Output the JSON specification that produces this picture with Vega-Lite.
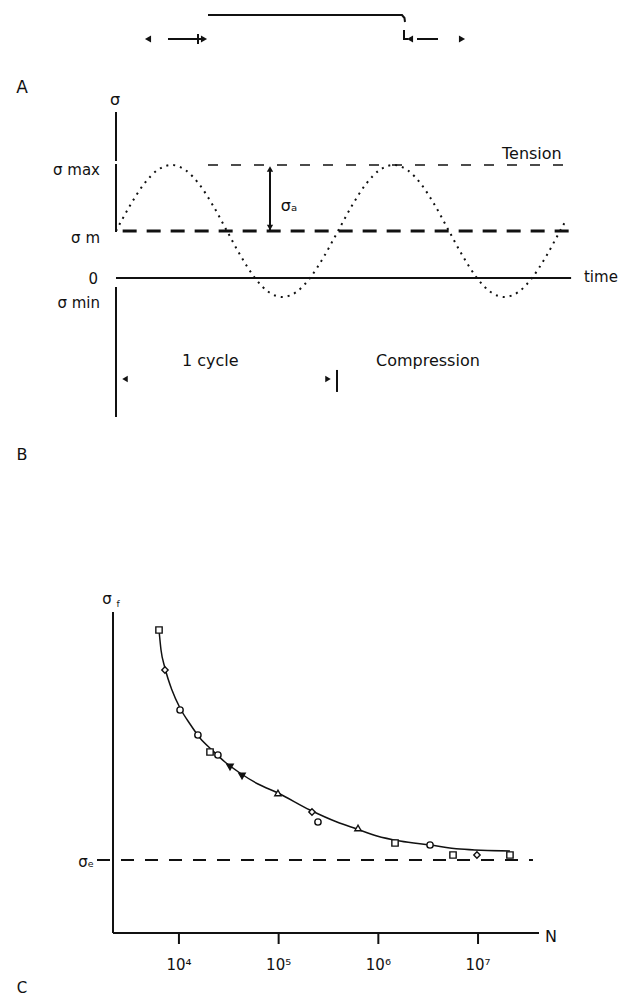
{
  "$schema": "https://vega.github.io/schema/vega-lite/v6.json",
  "padding": 0,
  "spacing": 0,
  "bounds": "flush",
  "background": "white",
  "config": {"view": {"stroke": null}, "font": "DejaVu Sans", "text": {"color": "#111"}},
  "vconcat": [
    {
      "width": 621,
      "height": 100,
      "layer": [
        {
          "data": {"values": [
            {"seg": "top", "o": 1, "t": 0.4144, "v": 8.5},
            {"seg": "top", "o": 2, "t": 1.2883, "v": 8.5},
            {"seg": "top", "o": 3, "t": 1.2995, "v": 8.2},
            {"seg": "top", "o": 4, "t": 1.3018, "v": 7.8},
            {"seg": "drop", "o": 1, "t": 1.2973, "v": 7.0},
            {"seg": "drop", "o": 2, "t": 1.2973, "v": 6.1},
            {"seg": "drop", "o": 3, "t": 1.3153, "v": 6.1},
            {"seg": "left", "o": 1, "t": 0.2342, "v": 6.1},
            {"seg": "left", "o": 2, "t": 0.3874, "v": 6.1},
            {"seg": "right", "o": 1, "t": 1.3559, "v": 6.1},
            {"seg": "right", "o": 2, "t": 1.4505, "v": 6.1},
            {"seg": "bar", "o": 1, "t": 0.3694, "v": 6.6},
            {"seg": "bar", "o": 2, "t": 0.3694, "v": 5.6}
          ]},
          "mark": {"type": "line", "color": "#111", "strokeWidth": 2},
          "encoding": {
            "x": {"field": "t", "type": "quantitative", "scale": {"domain": [-0.52252, 2.27477], "nice": false, "zero": false}, "axis": null},
            "y": {"field": "v", "type": "quantitative", "scale": {"domain": [0, 10], "nice": false, "zero": false}, "axis": null},
            "detail": {"field": "seg"},
            "order": {"field": "o"}
          }
        },
        {
          "data": {"values": [
            {"t": 0.1441, "v": 6.1, "head": "triangle-left"},
            {"t": 0.3964, "v": 6.1, "head": "triangle-right"},
            {"t": 1.3243, "v": 6.1, "head": "triangle-left"},
            {"t": 1.5586, "v": 6.1, "head": "triangle-right"}
          ]},
          "mark": {"type": "point", "filled": true, "color": "#111", "size": 50, "opacity": 1},
          "encoding": {
            "x": {"field": "t", "type": "quantitative"},
            "y": {"field": "v", "type": "quantitative"},
            "shape": {"field": "head", "type": "nominal", "scale": null}
          }
        },
        {
          "data": {"values": [{"label": "A", "t": -0.4234, "v": 1.2}]},
          "mark": {"type": "text", "fontSize": 17, "align": "center", "baseline": "middle"},
          "encoding": {
            "x": {"field": "t", "type": "quantitative"},
            "y": {"field": "v", "type": "quantitative"},
            "text": {"field": "label"}
          }
        }
      ]
    },
    {
      "width": 621,
      "height": 380,
      "layer": [
        {
          "data": {"values": [
            {"t": 0, "s1": 7.545, "s2": 5.318},
            {"t": 0, "s1": 5.182, "s2": 2.091},
            {"t": 0, "s1": -0.409, "s2": -6.318}
          ]},
          "mark": {"type": "rule", "color": "#111", "strokeWidth": 2},
          "encoding": {
            "x": {"field": "t", "type": "quantitative", "scale": {"domain": [-0.52252, 2.27477], "nice": false, "zero": false}, "axis": null},
            "y": {"field": "s1", "type": "quantitative", "scale": {"domain": [-9.1818, 8.0909], "nice": false, "zero": false}, "axis": null},
            "y2": {"field": "s2"}
          }
        },
        {
          "data": {"values": [{"t1": 0, "t2": 2.05, "s": 0}]},
          "mark": {"type": "rule", "color": "#111", "strokeWidth": 2},
          "encoding": {
            "x": {"field": "t1", "type": "quantitative"},
            "x2": {"field": "t2"},
            "y": {"field": "s", "type": "quantitative"}
          }
        },
        {
          "data": {"values": [{"t1": 0.03, "t2": 2.05, "s": 2.136}]},
          "mark": {"type": "rule", "color": "#111", "strokeWidth": 3, "strokeDash": [14, 10]},
          "encoding": {
            "x": {"field": "t1", "type": "quantitative"},
            "x2": {"field": "t2"},
            "y": {"field": "s", "type": "quantitative"}
          }
        },
        {
          "data": {"values": [{"t1": 0.4144, "t2": 2.05, "s": 5.136}]},
          "mark": {"type": "rule", "color": "#111", "strokeWidth": 1.7, "strokeDash": [10, 13]},
          "encoding": {
            "x": {"field": "t1", "type": "quantitative"},
            "x2": {"field": "t2"},
            "y": {"field": "s", "type": "quantitative"}
          }
        },
        {
          "data": {"values": [
            {"t": 0.6937, "s1": 2.136, "s2": 4.95},
            {"t": 0.9955, "s1": -4.18, "s2": -5.18}
          ]},
          "mark": {"type": "rule", "color": "#111", "strokeWidth": 2},
          "encoding": {
            "x": {"field": "t", "type": "quantitative"},
            "y": {"field": "s1", "type": "quantitative"},
            "y2": {"field": "s2"}
          }
        },
        {
          "data": {"values": [
            {"t": 0.0, "s": 2.136}, {"t": 0.0625, "s": 3.284}, {"t": 0.125, "s": 4.257}, {"t": 0.1875, "s": 4.908},
            {"t": 0.25, "s": 5.136}, {"t": 0.3125, "s": 4.908}, {"t": 0.375, "s": 4.257}, {"t": 0.4375, "s": 3.284},
            {"t": 0.5, "s": 2.136}, {"t": 0.5625, "s": 0.988}, {"t": 0.625, "s": 0.015}, {"t": 0.6875, "s": -0.636},
            {"t": 0.75, "s": -0.864}, {"t": 0.8125, "s": -0.636}, {"t": 0.875, "s": 0.015}, {"t": 0.9375, "s": 0.988},
            {"t": 1.0, "s": 2.136}, {"t": 1.0625, "s": 3.284}, {"t": 1.125, "s": 4.257}, {"t": 1.1875, "s": 4.908},
            {"t": 1.25, "s": 5.136}, {"t": 1.3125, "s": 4.908}, {"t": 1.375, "s": 4.257}, {"t": 1.4375, "s": 3.284},
            {"t": 1.5, "s": 2.136}, {"t": 1.5625, "s": 0.988}, {"t": 1.625, "s": 0.015}, {"t": 1.6875, "s": -0.636},
            {"t": 1.75, "s": -0.864}, {"t": 1.8125, "s": -0.636}, {"t": 1.875, "s": 0.015}, {"t": 1.9375, "s": 0.988},
            {"t": 2.0, "s": 2.136}, {"t": 2.0225, "s": 2.55}
          ]},
          "mark": {"type": "line", "color": "#111", "strokeWidth": 2, "strokeDash": [2, 5], "interpolate": "monotone"},
          "encoding": {
            "x": {"field": "t", "type": "quantitative"},
            "y": {"field": "s", "type": "quantitative"}
          }
        },
        {
          "data": {"values": [
            {"t": 0.6937, "s": 4.95, "head": "triangle-up"},
            {"t": 0.6937, "s": 2.3, "head": "triangle-down"},
            {"t": 0.0405, "s": -4.591, "head": "triangle-left"},
            {"t": 0.955, "s": -4.591, "head": "triangle-right"}
          ]},
          "mark": {"type": "point", "filled": true, "color": "#111", "size": 40, "opacity": 1},
          "encoding": {
            "x": {"field": "t", "type": "quantitative"},
            "y": {"field": "s", "type": "quantitative"},
            "shape": {"field": "head", "type": "nominal", "scale": null}
          }
        },
        {
          "data": {"values": [
            {"label": "σ max", "t": -0.0721, "s": 4.909},
            {"label": "σ m", "t": -0.0721, "s": 1.818},
            {"label": "0", "t": -0.0811, "s": -0.045},
            {"label": "σ min", "t": -0.0721, "s": -1.136}
          ]},
          "mark": {"type": "text", "fontSize": 15, "align": "right", "baseline": "middle"},
          "encoding": {
            "x": {"field": "t", "type": "quantitative"},
            "y": {"field": "s", "type": "quantitative"},
            "text": {"field": "label"}
          }
        },
        {
          "data": {"values": [
            {"label": "Tension", "t": 1.7387, "s": 5.645},
            {"label": "1 cycle", "t": 0.2973, "s": -3.773},
            {"label": "Compression", "t": 1.1712, "s": -3.773}
          ]},
          "mark": {"type": "text", "fontSize": 16, "align": "left", "baseline": "middle"},
          "encoding": {
            "x": {"field": "t", "type": "quantitative"},
            "y": {"field": "s", "type": "quantitative"},
            "text": {"field": "label"}
          }
        },
        {
          "data": {"values": [{"label": "time", "t": 2.108, "s": 0.045}]},
          "mark": {"type": "text", "fontSize": 15, "align": "left", "baseline": "middle"},
          "encoding": {
            "x": {"field": "t", "type": "quantitative"},
            "y": {"field": "s", "type": "quantitative"},
            "text": {"field": "label"}
          }
        },
        {
          "data": {"values": [
            {"label": "σ", "t": -0.0045, "s": 8.09},
            {"label": "σₐ", "t": 0.7793, "s": 3.273},
            {"label": "B", "t": -0.4234, "s": -8.045}
          ]},
          "mark": {"type": "text", "fontSize": 16, "align": "center", "baseline": "middle"},
          "encoding": {
            "x": {"field": "t", "type": "quantitative"},
            "y": {"field": "s", "type": "quantitative"},
            "text": {"field": "label"}
          }
        }
      ]
    },
    {
      "width": 621,
      "height": 516,
      "layer": [
        {
          "data": {"values": [{"n": 2181, "s1": 0, "s2": 802.5}]},
          "mark": {"type": "rule", "color": "#111", "strokeWidth": 2},
          "encoding": {
            "x": {"field": "n", "type": "quantitative", "scale": {"type": "log", "domain": [160.4, 271600000], "nice": false}, "axis": null},
            "y": {"field": "s1", "type": "quantitative", "scale": {"domain": [-157.5, 1132.5], "nice": false, "zero": false}, "axis": null},
            "y2": {"field": "s2"}
          }
        },
        {
          "data": {"values": [{"n1": 2181, "n2": 40870000, "s": 0}]},
          "mark": {"type": "rule", "color": "#111", "strokeWidth": 2},
          "encoding": {
            "x": {"field": "n1", "type": "quantitative"},
            "x2": {"field": "n2"},
            "y": {"field": "s", "type": "quantitative"}
          }
        },
        {
          "data": {"values": [
            {"n": 10000, "s1": 0, "s2": -27.5},
            {"n": 100000, "s1": 0, "s2": -27.5},
            {"n": 1000000, "s1": 0, "s2": -27.5},
            {"n": 10000000, "s1": 0, "s2": -27.5}
          ]},
          "mark": {"type": "rule", "color": "#111", "strokeWidth": 2},
          "encoding": {
            "x": {"field": "n", "type": "quantitative"},
            "y": {"field": "s1", "type": "quantitative"},
            "y2": {"field": "s2"}
          }
        },
        {
          "data": {"values": [{"n1": 1507, "n2": 35560000, "s": 182.5}]},
          "mark": {"type": "rule", "color": "#111", "strokeWidth": 2, "strokeDash": [13, 11]},
          "encoding": {
            "x": {"field": "n1", "type": "quantitative"},
            "x2": {"field": "n2"},
            "y": {"field": "s", "type": "quantitative"}
          }
        },
        {
          "data": {"values": [
            {"n": 6310, "s": 757.5}, {"n": 6610, "s": 707.5}, {"n": 7240, "s": 662.5}, {"n": 8510, "s": 607.5},
            {"n": 10250, "s": 562.5}, {"n": 12910, "s": 522.5}, {"n": 16250, "s": 487.5}, {"n": 21440, "s": 457.5},
            {"n": 28950, "s": 427.5}, {"n": 40930, "s": 400}, {"n": 62060, "s": 372.5}, {"n": 98440, "s": 350},
            {"n": 206000, "s": 307.5}, {"n": 384600, "s": 277.5}, {"n": 610600, "s": 260}, {"n": 968600, "s": 242.5},
            {"n": 1648000, "s": 230}, {"n": 3297000, "s": 220}, {"n": 6590000, "s": 210}, {"n": 20900000, "s": 205}
          ]},
          "mark": {"type": "line", "color": "#111", "strokeWidth": 1.5, "interpolate": "monotone"},
          "encoding": {
            "x": {"field": "n", "type": "quantitative"},
            "y": {"field": "s", "type": "quantitative"}
          }
        },
        {
          "data": {"values": [
            {"n": 6310, "s": 757.5, "series": "a"},
            {"n": 7240, "s": 657.5, "series": "b"},
            {"n": 10260, "s": 557.5, "series": "c"},
            {"n": 15500, "s": 495, "series": "c"},
            {"n": 20500, "s": 452.5, "series": "a"},
            {"n": 24600, "s": 445, "series": "c"},
            {"n": 32500, "s": 415, "series": "e"},
            {"n": 42900, "s": 392.5, "series": "e"},
            {"n": 98400, "s": 350, "series": "d"},
            {"n": 216000, "s": 302.5, "series": "b"},
            {"n": 248000, "s": 277.5, "series": "c"},
            {"n": 625000, "s": 262.5, "series": "d"},
            {"n": 1470000, "s": 225, "series": "a"},
            {"n": 3300000, "s": 220, "series": "c"},
            {"n": 5610000, "s": 195, "series": "a"},
            {"n": 9750000, "s": 195, "series": "b"},
            {"n": 20900000, "s": 195, "series": "a"}
          ]},
          "mark": {"type": "point", "size": 40, "strokeWidth": 1.4, "opacity": 1, "stroke": "#111"},
          "encoding": {
            "x": {"field": "n", "type": "quantitative"},
            "y": {"field": "s", "type": "quantitative"},
            "shape": {"field": "series", "type": "nominal", "scale": {"domain": ["a", "b", "c", "d", "e"], "range": ["square", "diamond", "circle", "triangle-up", "triangle-down"]}, "legend": null},
            "fill": {"field": "series", "type": "nominal", "scale": {"domain": ["a", "b", "c", "d", "e"], "range": ["white", "white", "white", "white", "#111"]}, "legend": null}
          }
        },
        {
          "data": {"values": [
            {"label": "10⁴", "n": 10000, "s": -80},
            {"label": "10⁵", "n": 100000, "s": -80},
            {"label": "10⁶", "n": 1000000, "s": -80},
            {"label": "10⁷", "n": 10000000, "s": -80},
            {"label": "σ", "n": 1898, "s": 835},
            {"label": "C", "n": 266.6, "s": -137.5}
          ]},
          "mark": {"type": "text", "fontSize": 15, "align": "center", "baseline": "middle"},
          "encoding": {
            "x": {"field": "n", "type": "quantitative"},
            "y": {"field": "s", "type": "quantitative"},
            "text": {"field": "label"}
          }
        },
        {
          "data": {"values": [{"label": "f", "n": 2447, "s": 822.5}]},
          "mark": {"type": "text", "fontSize": 9, "align": "center", "baseline": "middle"},
          "encoding": {
            "x": {"field": "n", "type": "quantitative"},
            "y": {"field": "s", "type": "quantitative"},
            "text": {"field": "label"}
          }
        },
        {
          "data": {"values": [{"label": "σₑ", "n": 1406, "s": 177.5}]},
          "mark": {"type": "text", "fontSize": 15, "align": "right", "baseline": "middle"},
          "encoding": {
            "x": {"field": "n", "type": "quantitative"},
            "y": {"field": "s", "type": "quantitative"},
            "text": {"field": "label"}
          }
        },
        {
          "data": {"values": [{"label": "N", "n": 46940000, "s": -10}]},
          "mark": {"type": "text", "fontSize": 16, "align": "left", "baseline": "middle"},
          "encoding": {
            "x": {"field": "n", "type": "quantitative"},
            "y": {"field": "s", "type": "quantitative"},
            "text": {"field": "label"}
          }
        }
      ]
    }
  ]
}
